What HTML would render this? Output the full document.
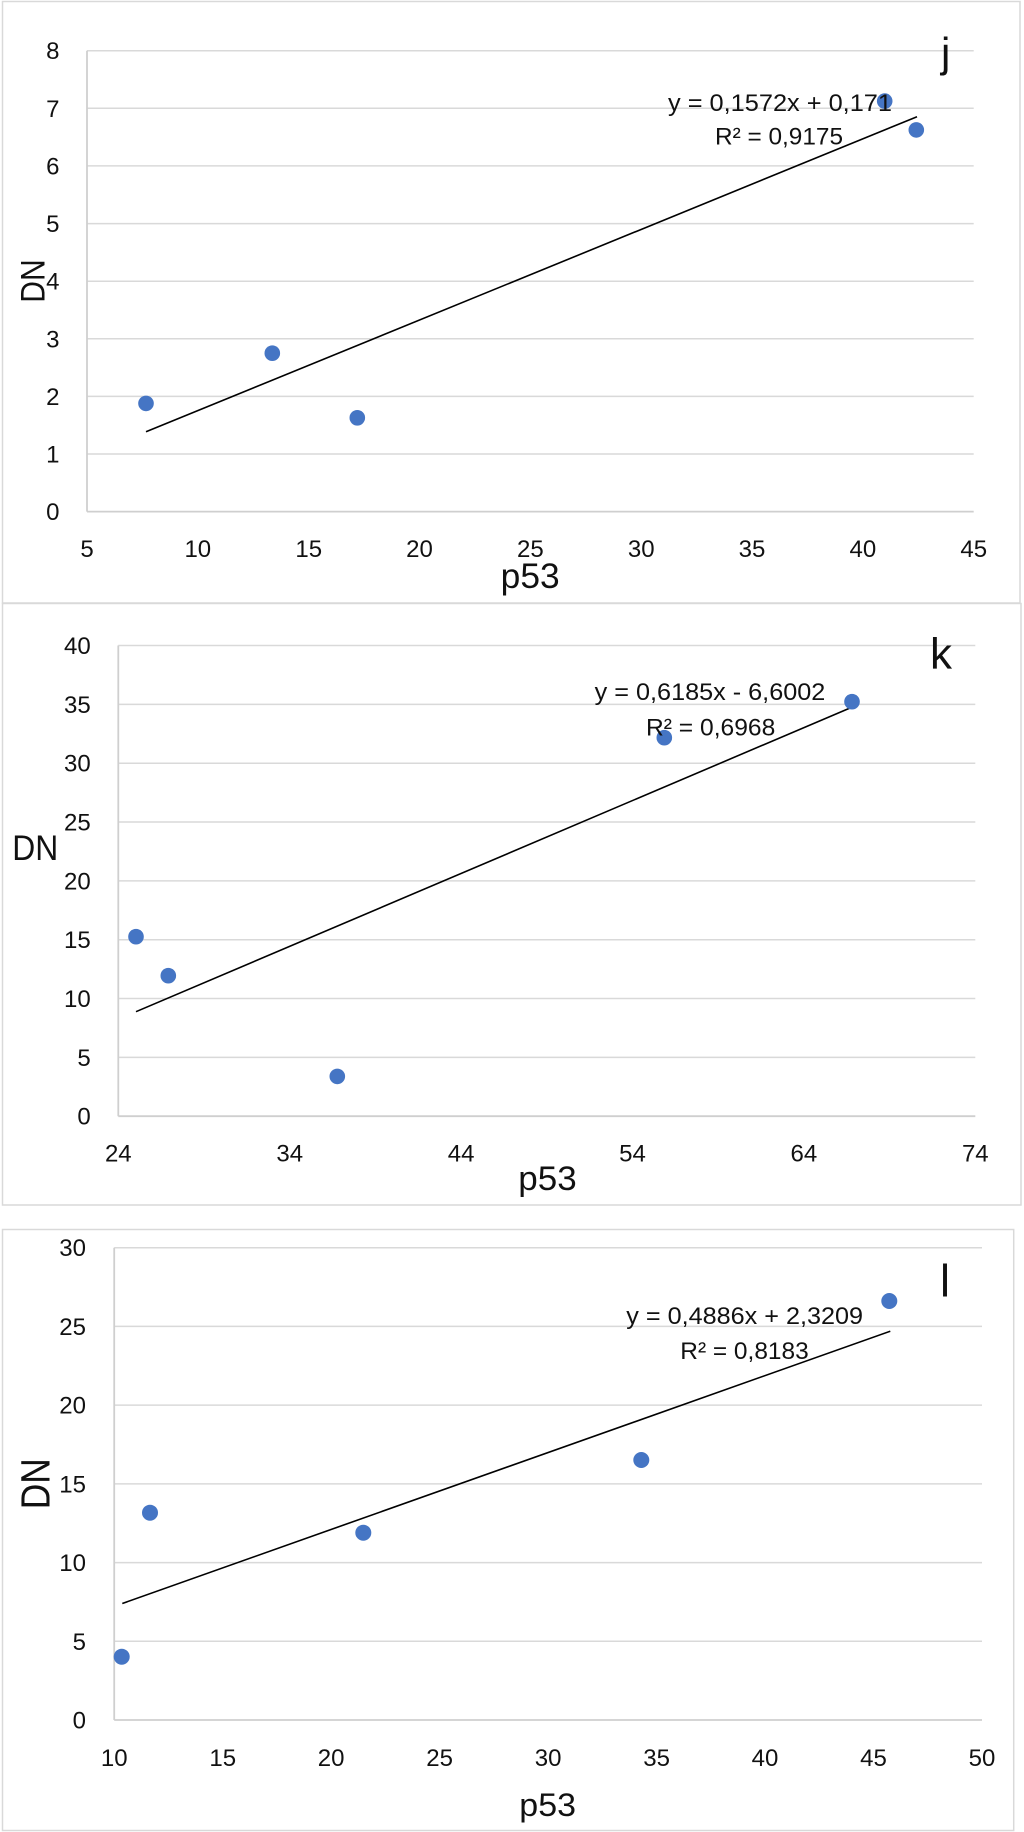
<!DOCTYPE html>
<html>
<head>
<meta charset="utf-8">
<style>
html,body{margin:0;padding:0;background:#fff;}
svg{display:block;}
text{font-family:"Liberation Sans",Arial,sans-serif;fill:#111;}
.t{font-size:24px;}
.eq{font-size:24px;}
</style>
</head>
<body>
<svg width="1024" height="1832" viewBox="0 0 1024 1832" xmlns="http://www.w3.org/2000/svg">
<rect x="0" y="0" width="1024" height="1832" fill="#fff"/>

<!-- ============ CHART 1 (j) ============ -->
<rect x="2.5" y="1.5" width="1017.5" height="601.5" fill="none" stroke="#d9d9d9" stroke-width="1.5"/>
<g stroke="#d9d9d9" stroke-width="1.5">
<line x1="87" y1="50.7" x2="973.7" y2="50.7"/>
<line x1="87" y1="108.3" x2="973.7" y2="108.3"/>
<line x1="87" y1="165.9" x2="973.7" y2="165.9"/>
<line x1="87" y1="223.6" x2="973.7" y2="223.6"/>
<line x1="87" y1="281.2" x2="973.7" y2="281.2"/>
<line x1="87" y1="338.8" x2="973.7" y2="338.8"/>
<line x1="87" y1="396.4" x2="973.7" y2="396.4"/>
<line x1="87" y1="454.0" x2="973.7" y2="454.0"/>
</g>
<g stroke="#cfcfcf" stroke-width="1.8">
<line x1="87" y1="511.6" x2="973.7" y2="511.6"/>
<line x1="87" y1="50.7" x2="87" y2="511.6"/>
</g>
<g class="t" text-anchor="end">
<text x="59.5" y="59.2">8</text>
<text x="59.5" y="116.8">7</text>
<text x="59.5" y="174.4">6</text>
<text x="59.5" y="232.1">5</text>
<text x="59.5" y="289.7">4</text>
<text x="59.5" y="347.3">3</text>
<text x="59.5" y="404.9">2</text>
<text x="59.5" y="462.5">1</text>
<text x="59.5" y="520.1">0</text>
</g>
<g class="t" text-anchor="middle">
<text x="87" y="557">5</text>
<text x="197.8" y="557">10</text>
<text x="308.7" y="557">15</text>
<text x="419.5" y="557">20</text>
<text x="530.4" y="557">25</text>
<text x="641.2" y="557">30</text>
<text x="752.0" y="557">35</text>
<text x="862.9" y="557">40</text>
<text x="973.7" y="557">45</text>
</g>
<text x="500.7" y="588" font-size="35" textLength="59" lengthAdjust="spacingAndGlyphs">p53</text>
<text transform="translate(44.3,302.7) rotate(-90)" font-size="34" textLength="43.4" lengthAdjust="spacingAndGlyphs">DN</text>
<line x1="146" y1="431.8" x2="917" y2="116.7" stroke="#000" stroke-width="1.6"/>
<g fill="#4575c4">
<circle cx="146" cy="403.4" r="7.8"/>
<circle cx="272.3" cy="353.2" r="7.8"/>
<circle cx="357.3" cy="417.8" r="7.8"/>
<circle cx="884.7" cy="101.1" r="7.8"/>
<circle cx="916.3" cy="129.9" r="7.8"/>
</g>
<text class="eq" x="668" y="110.8" textLength="224" lengthAdjust="spacingAndGlyphs">y = 0,1572x + 0,171</text>
<text class="eq" x="715" y="144.7" textLength="128" lengthAdjust="spacingAndGlyphs">R² = 0,9175</text>
<text x="941" y="67" font-size="42">j</text>

<!-- ============ CHART 2 (k) ============ -->
<rect x="2.5" y="603.5" width="1018.5" height="601.5" fill="none" stroke="#d9d9d9" stroke-width="1.5"/>
<g stroke="#d9d9d9" stroke-width="1.5">
<line x1="118.3" y1="645.5" x2="975.3" y2="645.5"/>
<line x1="118.3" y1="704.4" x2="975.3" y2="704.4"/>
<line x1="118.3" y1="763.2" x2="975.3" y2="763.2"/>
<line x1="118.3" y1="822.0" x2="975.3" y2="822.0"/>
<line x1="118.3" y1="880.9" x2="975.3" y2="880.9"/>
<line x1="118.3" y1="939.7" x2="975.3" y2="939.7"/>
<line x1="118.3" y1="998.5" x2="975.3" y2="998.5"/>
<line x1="118.3" y1="1057.4" x2="975.3" y2="1057.4"/>
</g>
<g stroke="#cfcfcf" stroke-width="1.8">
<line x1="118.3" y1="1116.2" x2="975.3" y2="1116.2"/>
<line x1="118.3" y1="645.5" x2="118.3" y2="1116.2"/>
</g>
<g class="t" text-anchor="end">
<text x="90.7" y="654">40</text>
<text x="90.7" y="712.9">35</text>
<text x="90.7" y="771.7">30</text>
<text x="90.7" y="830.5">25</text>
<text x="90.7" y="889.4">20</text>
<text x="90.7" y="948.2">15</text>
<text x="90.7" y="1007">10</text>
<text x="90.7" y="1065.9">5</text>
<text x="90.7" y="1124.7">0</text>
</g>
<g class="t" text-anchor="middle">
<text x="118.3" y="1161.5">24</text>
<text x="289.7" y="1161.5">34</text>
<text x="461.1" y="1161.5">44</text>
<text x="632.5" y="1161.5">54</text>
<text x="803.9" y="1161.5">64</text>
<text x="975.3" y="1161.5">74</text>
</g>
<text x="518.3" y="1190" font-size="34" textLength="58.4" lengthAdjust="spacingAndGlyphs">p53</text>
<text x="12.3" y="859.8" font-size="35" textLength="46" lengthAdjust="spacingAndGlyphs">DN</text>
<line x1="136" y1="1011.7" x2="852.7" y2="706.9" stroke="#000" stroke-width="1.6"/>
<g fill="#4575c4">
<circle cx="136" cy="936.7" r="7.8"/>
<circle cx="168.3" cy="975.7" r="7.8"/>
<circle cx="337.3" cy="1076.4" r="7.8"/>
<circle cx="664.3" cy="737.7" r="7.8"/>
<circle cx="852" cy="701.7" r="7.8"/>
</g>
<text class="eq" x="594.7" y="700.2" textLength="230.6" lengthAdjust="spacingAndGlyphs">y = 0,6185x - 6,6002</text>
<text class="eq" x="646" y="735.4" textLength="129.3" lengthAdjust="spacingAndGlyphs">R² = 0,6968</text>
<text x="930" y="668.5" font-size="44">k</text>

<!-- ============ CHART 3 (l) ============ -->
<rect x="2.5" y="1229.5" width="1011.2" height="601" fill="none" stroke="#d9d9d9" stroke-width="1.5"/>
<g stroke="#d9d9d9" stroke-width="1.5">
<line x1="114.2" y1="1247.7" x2="982" y2="1247.7"/>
<line x1="114.2" y1="1326.4" x2="982" y2="1326.4"/>
<line x1="114.2" y1="1405.1" x2="982" y2="1405.1"/>
<line x1="114.2" y1="1483.9" x2="982" y2="1483.9"/>
<line x1="114.2" y1="1562.6" x2="982" y2="1562.6"/>
<line x1="114.2" y1="1641.3" x2="982" y2="1641.3"/>
</g>
<g stroke="#cfcfcf" stroke-width="1.8">
<line x1="114.2" y1="1720" x2="982" y2="1720"/>
<line x1="114.2" y1="1247.7" x2="114.2" y2="1720"/>
</g>
<g class="t" text-anchor="end">
<text x="86" y="1256.2">30</text>
<text x="86" y="1334.9">25</text>
<text x="86" y="1413.6">20</text>
<text x="86" y="1492.4">15</text>
<text x="86" y="1571.1">10</text>
<text x="86" y="1649.8">5</text>
<text x="86" y="1728.5">0</text>
</g>
<g class="t" text-anchor="middle">
<text x="114.2" y="1766">10</text>
<text x="222.7" y="1766">15</text>
<text x="331.1" y="1766">20</text>
<text x="439.6" y="1766">25</text>
<text x="548.1" y="1766">30</text>
<text x="656.6" y="1766">35</text>
<text x="765.0" y="1766">40</text>
<text x="873.5" y="1766">45</text>
<text x="982" y="1766">50</text>
</g>
<text x="519.3" y="1816" font-size="32" textLength="56.7" lengthAdjust="spacingAndGlyphs">p53</text>
<text transform="translate(49.3,1509.3) rotate(-90)" font-size="41" textLength="51" lengthAdjust="spacingAndGlyphs">DN</text>
<line x1="122.3" y1="1603.5" x2="890.3" y2="1331.2" stroke="#000" stroke-width="1.6"/>
<g fill="#4575c4">
<circle cx="121.7" cy="1656.7" r="8"/>
<circle cx="150" cy="1512.7" r="8"/>
<circle cx="363.3" cy="1532.7" r="8"/>
<circle cx="641.3" cy="1460" r="8"/>
<circle cx="889.3" cy="1301" r="8"/>
</g>
<text class="eq" x="626.3" y="1324" font-size="25" textLength="236.7" lengthAdjust="spacingAndGlyphs">y = 0,4886x + 2,3209</text>
<text class="eq" x="680.3" y="1359" font-size="25" textLength="128.4" lengthAdjust="spacingAndGlyphs">R² = 0,8183</text>
<text x="940" y="1296.7" font-size="45">l</text>
</svg>
</body>
</html>
